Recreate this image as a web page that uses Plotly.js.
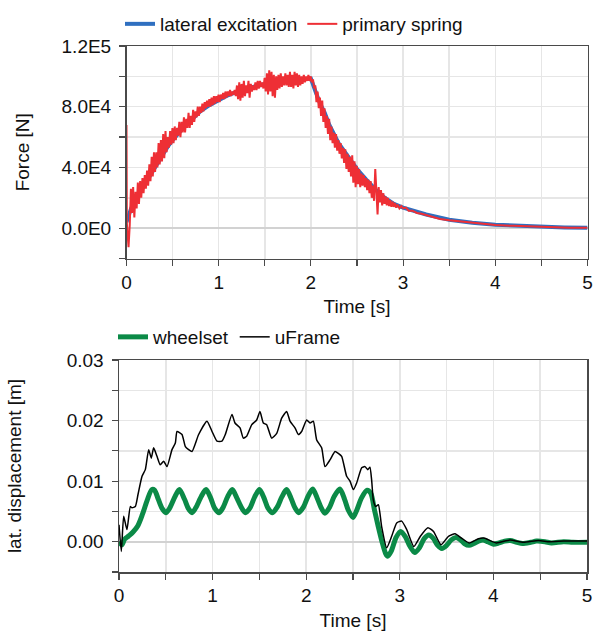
<!DOCTYPE html>
<html>
<head>
<meta charset="utf-8">
<script src="https://cdn.plot.ly/plotly-3.0.1.min.js"></script>
<style>html,body{margin:0;padding:0;background:#fff;}#chart{width:595px;height:633px;}</style>
</head>
<body>
<div id="chart"></div>
<script>
// ---------- Top chart: Force [N] ----------
const lateralT = [0, 0.05, 0.1, 0.15, 0.2, 0.25, 0.3, 0.35, 0.4, 0.45, 0.5, 0.6, 0.7, 0.8, 0.9, 1.0, 1.1, 1.2, 1.3, 1.4, 1.5, 1.6, 1.7, 1.8, 1.9, 2.0, 2.05, 2.1, 2.15, 2.2, 2.3, 2.4, 2.5, 2.6, 2.7, 2.8, 2.9, 3.0, 3.1, 3.25, 3.5, 3.75, 4.0, 4.25, 4.5, 4.75, 5.0];
const lateralExcitation = [4000, 13000, 19000, 24000, 29000, 35000, 40000, 45000, 49000, 54000, 58000, 65000, 71000, 77000, 81000, 84500, 87500, 90000, 92000, 93500, 95000, 96000, 97000, 97500, 98000, 98500, 90000, 82000, 76000, 68000, 56000, 47500, 39000, 32000, 25500, 20000, 16000, 13500, 11500, 9000, 5500, 3500, 2200, 1500, 1000, 500, 200];

// primary spring force: [time s, force N]
const primarySpringPts = [
 [0.000, 68000], [0.004, 3000], [0.022, -12500], [0.035, 2000], [0.048, 26000], [0.060, 10000], [0.072, 27000], [0.085, 7000],
 [0.098, 24000], [0.110, 13000], [0.123, 30000], [0.135, 16000], [0.148, 31000], [0.160, 20000], [0.173, 33000], [0.185, 23000],
 [0.198, 35000], [0.210, 26000], [0.223, 38000], [0.235, 28000], [0.248, 42000], [0.260, 31000], [0.273, 47000], [0.285, 34000],
 [0.298, 50000], [0.310, 37000], [0.323, 50000], [0.335, 40000], [0.348, 56000], [0.360, 42000], [0.373, 58000], [0.385, 44000],
 [0.398, 62000], [0.410, 46000], [0.423, 64000], [0.435, 50000], [0.448, 60000], [0.460, 53000], [0.473, 64000], [0.485, 55000],
 [0.498, 66000], [0.510, 56000], [0.523, 67000], [0.535, 58000], [0.548, 66000], [0.560, 61000], [0.573, 70000], [0.585, 60000],
 [0.598, 70000], [0.610, 63000], [0.623, 73000], [0.635, 63000], [0.648, 72000], [0.660, 66000], [0.673, 76000], [0.685, 66000],
 [0.698, 74000], [0.710, 68000], [0.723, 78000], [0.735, 70000], [0.748, 77000], [0.760, 73000], [0.773, 80000], [0.785, 74000],
 [0.798, 80000], [0.810, 76000], [0.823, 82000], [0.835, 77000], [0.848, 83000], [0.860, 79000], [0.873, 84000], [0.885, 80000],
 [0.898, 85000], [0.910, 80000], [0.923, 86000], [0.935, 81000], [0.948, 87000], [0.960, 82000], [0.973, 87000], [0.985, 83000],
 [0.998, 88000], [1.010, 83000], [1.023, 88000], [1.035, 85000], [1.048, 89000], [1.060, 85000], [1.073, 90000], [1.085, 86000],
 [1.098, 90000], [1.110, 87000], [1.123, 91000], [1.135, 87000], [1.148, 90000], [1.160, 88000], [1.173, 91000], [1.185, 87000],
 [1.198, 94000], [1.210, 85000], [1.223, 96000], [1.235, 84000], [1.248, 95000], [1.260, 86000], [1.273, 97000], [1.285, 87000],
 [1.298, 94000], [1.310, 89000], [1.323, 97000], [1.335, 86000], [1.348, 95000], [1.360, 90000], [1.373, 94000], [1.385, 91000],
 [1.398, 96000], [1.410, 91000], [1.423, 97000], [1.435, 92000], [1.448, 97000], [1.460, 93000], [1.473, 96000], [1.485, 92000],
 [1.498, 99000], [1.510, 90000], [1.523, 102000], [1.535, 88000], [1.548, 104000], [1.560, 90000], [1.573, 103000], [1.585, 87000],
 [1.598, 101000], [1.610, 86000], [1.623, 100000], [1.635, 91000], [1.648, 101000], [1.660, 92000], [1.673, 102000], [1.685, 93000],
 [1.698, 100000], [1.710, 94000], [1.723, 102000], [1.735, 94000], [1.748, 101000], [1.760, 93000], [1.773, 103000], [1.785, 93000],
 [1.798, 101000], [1.810, 92000], [1.823, 103000], [1.835, 94000], [1.848, 102000], [1.860, 93000], [1.873, 101000], [1.885, 94000],
 [1.898, 100000], [1.910, 95000], [1.923, 101000], [1.935, 96000], [1.948, 100000], [1.960, 97000], [1.973, 101000], [1.985, 97000],
 [1.998, 100000], [2.010, 96000], [2.023, 98000], [2.035, 92000], [2.048, 94000], [2.060, 83000], [2.073, 90000], [2.085, 79000],
 [2.098, 86000], [2.110, 74000], [2.123, 84000], [2.135, 70000], [2.148, 79000], [2.160, 66000], [2.173, 74000], [2.185, 62000],
 [2.198, 72000], [2.210, 58000], [2.223, 67000], [2.235, 56000], [2.248, 63000], [2.260, 53000], [2.273, 62000], [2.285, 51000],
 [2.298, 58000], [2.310, 49000], [2.323, 56000], [2.335, 46000], [2.348, 53000], [2.360, 43000], [2.373, 52000], [2.385, 39000],
 [2.398, 49000], [2.410, 37000], [2.423, 47000], [2.435, 34000], [2.448, 48000], [2.460, 30000], [2.473, 44000], [2.485, 27000],
 [2.498, 41000], [2.510, 29000], [2.523, 39000], [2.535, 27000], [2.548, 36000], [2.560, 28000], [2.573, 35000], [2.585, 27000],
 [2.598, 33000], [2.610, 25000], [2.623, 32000], [2.635, 23000], [2.648, 31000], [2.660, 20000], [2.673, 28000], [2.685, 18000],
 [2.698, 39000], [2.710, 21000], [2.723, 9000], [2.735, 27000], [2.748, 17000], [2.760, 25000], [2.773, 15000], [2.785, 23000],
 [2.798, 16000], [2.810, 21000], [2.823, 15000], [2.835, 20000], [2.848, 14500], [2.860, 18500], [2.873, 14000], [2.885, 17500],
 [2.898, 14000], [2.910, 16500], [2.925, 13500], [2.940, 15500], [2.960, 13000], [2.980, 14500], [3.000, 13000], [3.030, 13500],
 [3.060, 11500], [3.100, 11500], [3.150, 10000], [3.200, 9500], [3.300, 7500], [3.400, 6000], [3.500, 5200], [3.600, 4500],
 [3.700, 3700], [3.800, 3000], [3.900, 2500], [4.000, 2000], [4.200, 1500], [4.400, 1000], [4.600, 900], [4.700, 600],
 [4.800, 300], [5.000, 300]
];

const forceTickVals = [0, 40000, 80000, 120000];
const forceTickText = ['0.0E0', '4.0E4', '8.0E4', '1.2E5'];

// ---------- Bottom chart: lat. displacement [m] ----------
const wheelsetT = [0, 0.03, 0.06, 0.1, 0.15, 0.2, 0.25, 0.3, 0.35, 0.38, 0.42, 0.46, 0.50, 0.54, 0.60, 0.645, 0.70, 0.74, 0.78, 0.82, 0.88, 0.93, 0.98, 1.02, 1.07, 1.11, 1.16, 1.21, 1.26, 1.31, 1.35, 1.40, 1.45, 1.50, 1.55, 1.59, 1.64, 1.69, 1.74, 1.79, 1.84, 1.88, 1.92, 1.97, 2.02, 2.07, 2.12, 2.16, 2.20, 2.25, 2.30, 2.36, 2.41, 2.45, 2.50, 2.54, 2.59, 2.65, 2.69, 2.73, 2.77, 2.81, 2.85, 2.87, 2.91, 2.96, 3.01, 3.06, 3.11, 3.16, 3.21, 3.26, 3.31, 3.36, 3.40, 3.45, 3.50, 3.55, 3.60, 3.65, 3.69, 3.74, 3.79, 3.84, 3.89, 3.94, 4.00, 4.06, 4.12, 4.18, 4.25, 4.31, 4.40, 4.46, 4.55, 4.62, 4.75, 4.85, 5.00];
const wheelset = [0.0, -0.0005, 0.0004, 0.0009, 0.0016, 0.0026, 0.0045, 0.0068, 0.0086, 0.0085, 0.0070, 0.0055, 0.0048, 0.0055, 0.0075, 0.0086, 0.0070, 0.0055, 0.0048, 0.0056, 0.0075, 0.0086, 0.0072, 0.0056, 0.0048, 0.0056, 0.0074, 0.0086, 0.0072, 0.0056, 0.0048, 0.0056, 0.0074, 0.0086, 0.0072, 0.0056, 0.0048, 0.0057, 0.0074, 0.0086, 0.0071, 0.0056, 0.0048, 0.0057, 0.0075, 0.0087, 0.0071, 0.0056, 0.0047, 0.0057, 0.0075, 0.0087, 0.0070, 0.0052, 0.0040, 0.0052, 0.0072, 0.0085, 0.0080, 0.0052, 0.0025, 0.0000, -0.0020, -0.0024, -0.0015, 0.0007, 0.0017, 0.0008, -0.0008, -0.0018, -0.0010, 0.0005, 0.0011, 0.0005, -0.0005, -0.0011, -0.0006, 0.0003, 0.0007, 0.0003, -0.0003, -0.0006, -0.0003, 0.0001, 0.0003, 0.0000, -0.0004, -0.0002, 0.0001, 0.0002, -0.0001, -0.0003, -0.0001, 0.0001, 0.0000, -0.0002, 0.0000, -0.0001, -0.0001];

const uFrameT = [0, 0.025, 0.05, 0.085, 0.121, 0.139, 0.174, 0.203, 0.246, 0.281, 0.317, 0.345, 0.37, 0.406, 0.441, 0.477, 0.513, 0.566, 0.602, 0.62, 0.673, 0.709, 0.744, 0.78, 0.851, 0.94, 0.994, 1.047, 1.1, 1.136, 1.207, 1.239, 1.293, 1.328, 1.364, 1.417, 1.471, 1.506, 1.542, 1.578, 1.631, 1.685, 1.738, 1.791, 1.827, 1.88, 1.916, 1.951, 2.005, 2.041, 2.076, 2.112, 2.165, 2.201, 2.254, 2.308, 2.343, 2.379, 2.432, 2.468, 2.504, 2.539, 2.593, 2.628, 2.657, 2.681, 2.699, 2.717, 2.742, 2.771, 2.806, 2.86, 2.913, 2.967, 3.02, 3.074, 3.15, 3.22, 3.30, 3.36, 3.44, 3.52, 3.59, 3.66, 3.74, 3.84, 3.90, 4.03, 4.18, 4.32, 4.48, 4.60, 4.75, 4.90, 5.00];
const uFrame = [0.0028, -0.0016, 0.0042, 0.0020, 0.0058, 0.0056, 0.0058, 0.0078, 0.0108, 0.0119, 0.0152, 0.0138, 0.0155, 0.0141, 0.0127, 0.0133, 0.0124, 0.0152, 0.0163, 0.0182, 0.0177, 0.0157, 0.0152, 0.0149, 0.0177, 0.0199, 0.0182, 0.0166, 0.0166, 0.0177, 0.0210, 0.0196, 0.0188, 0.0171, 0.0174, 0.0193, 0.0201, 0.0215, 0.0196, 0.0193, 0.0171, 0.0179, 0.0204, 0.0215, 0.0199, 0.0188, 0.0177, 0.0182, 0.0201, 0.0196, 0.0199, 0.0168, 0.0155, 0.0124, 0.0135, 0.0149, 0.0146, 0.0141, 0.0108, 0.0100, 0.0086, 0.0097, 0.0122, 0.0124, 0.0119, 0.0123, 0.0102, 0.0069, 0.0058, 0.0061, 0.0025, -0.0010, 0.0009, 0.0031, 0.0034, 0.0020, -0.0008, 0.0009, 0.0023, 0.0017, -0.0005, 0.0009, 0.0013, 0.0006, -0.0002, 0.0005, 0.0006, -0.0002, 0.0003, -0.0001, 0.0002, 0.0000, 0.0001, 0.0001, 0.0001];

const dispTickVals = [0, 0.01, 0.02, 0.03];
const dispTickText = ['0.00', '0.01', '0.02', '0.03'];

const timeTickVals = [0, 1, 2, 3, 4, 5];
const timeTickText = ['0', '1', '2', '3', '4', '5'];

const FONT = 'Liberation Sans, Arial, sans-serif';
const GRID = '#e6e6e6';
const AXIS = '#4a4a4a';

function xAxis(domain, anchor) {
  return {
    domain: domain, anchor: anchor, range: [0, 5],
    tickvals: timeTickVals, ticktext: timeTickText,
    ticks: 'outside', ticklen: 6, tickwidth: 1.2, tickcolor: AXIS,
    showgrid: true, gridcolor: GRID, gridwidth: 1.5,
    minor: {dtick: 0.5, tick0: 0, ticks: 'outside', ticklen: 6, tickcolor: AXIS, showgrid: true, gridcolor: GRID, gridwidth: 1.5},
    showline: true, linecolor: AXIS, linewidth: 1.5, mirror: true,
    zeroline: false,
    title: {text: 'Time [s]', font: {size: 19, family: FONT, color: '#111'}, standoff: 8},
    tickfont: {size: 19, family: FONT, color: '#111'}
  };
}
function yAxis(domain, anchor, range, vals, text, minorStep, title, standoff) {
  return {
    domain: domain, anchor: anchor, range: range,
    tickvals: vals, ticktext: text,
    ticks: 'outside', ticklen: 6, tickwidth: 1.2, tickcolor: AXIS,
    showgrid: true, gridcolor: GRID, gridwidth: 1.5,
    minor: {dtick: minorStep, tick0: 0, ticks: 'outside', ticklen: 6, tickcolor: AXIS, showgrid: true, gridcolor: GRID, gridwidth: 1.5},
    showline: true, linecolor: AXIS, linewidth: 1.5, mirror: true,
    zeroline: true, zerolinecolor: '#d2d2d2', zerolinewidth: 2,
    ticklabelstandoff: 4,
    title: {text: title, font: {size: 19, family: FONT, color: '#111'}, standoff: standoff},
    tickfont: {size: 19, family: FONT, color: '#111'}
  };
}

const traces = [
  {x: lateralT, y: lateralExcitation, name: 'lateral excitation', type: 'scatter', mode: 'lines',
   line: {color: '#2f6fc0', width: 4}, xaxis: 'x', yaxis: 'y', legend: 'legend'},
  {x: primarySpringPts.map(p => p[0]), y: primarySpringPts.map(p => p[1]), name: 'primary spring', type: 'scatter', mode: 'lines',
   line: {color: '#ee2f35', width: 2}, xaxis: 'x', yaxis: 'y', legend: 'legend'},
  {x: wheelsetT, y: wheelset, name: 'wheelset', type: 'scatter', mode: 'lines',
   line: {color: '#0b8a47', width: 5, shape: 'spline', smoothing: 0.8}, xaxis: 'x2', yaxis: 'y2', legend: 'legend2'},
  {x: uFrameT, y: uFrame, name: 'uFrame', type: 'scatter', mode: 'lines',
   line: {color: '#000000', width: 1.5, shape: 'spline', smoothing: 0.5}, xaxis: 'x2', yaxis: 'y2', legend: 'legend2'}
];

const layout = {
  width: 595, height: 633,
  margin: {l: 0, r: 0, t: 0, b: 0},
  paper_bgcolor: '#ffffff', plot_bgcolor: '#ffffff',
  font: {family: FONT, size: 19, color: '#111'},
  showlegend: true,
  legend: {orientation: 'h', x: 120 / 595, y: 1 - 24 / 633, xanchor: 'left', yanchor: 'middle',
           bgcolor: 'rgba(0,0,0,0)', font: {size: 19, family: FONT, color: '#111'}, itemwidth: 30},
  legend2: {orientation: 'h', x: 113 / 595, y: 1 - 337 / 633, xanchor: 'left', yanchor: 'middle',
            bgcolor: 'rgba(0,0,0,0)', font: {size: 19, family: FONT, color: '#111'}, itemwidth: 30},
  xaxis: xAxis([126.5 / 595, 587.5 / 595], 'y'),
  yaxis: yAxis([1 - 258.5 / 633, 1 - 46 / 633], 'x', [-20000, 120000], forceTickVals, forceTickText, 20000, 'Force [N]', 27),
  xaxis2: xAxis([119 / 595, 587 / 595], 'y2'),
  yaxis2: yAxis([1 - 572 / 633, 1 - 360 / 633], 'x2', [-0.005, 0.03], dispTickVals, dispTickText, 0.005, 'lat. displacement [m]', 40)
};

Plotly.newPlot('chart', traces, layout, {staticPlot: true, displayModeBar: false});
</script>
</body>
</html>
